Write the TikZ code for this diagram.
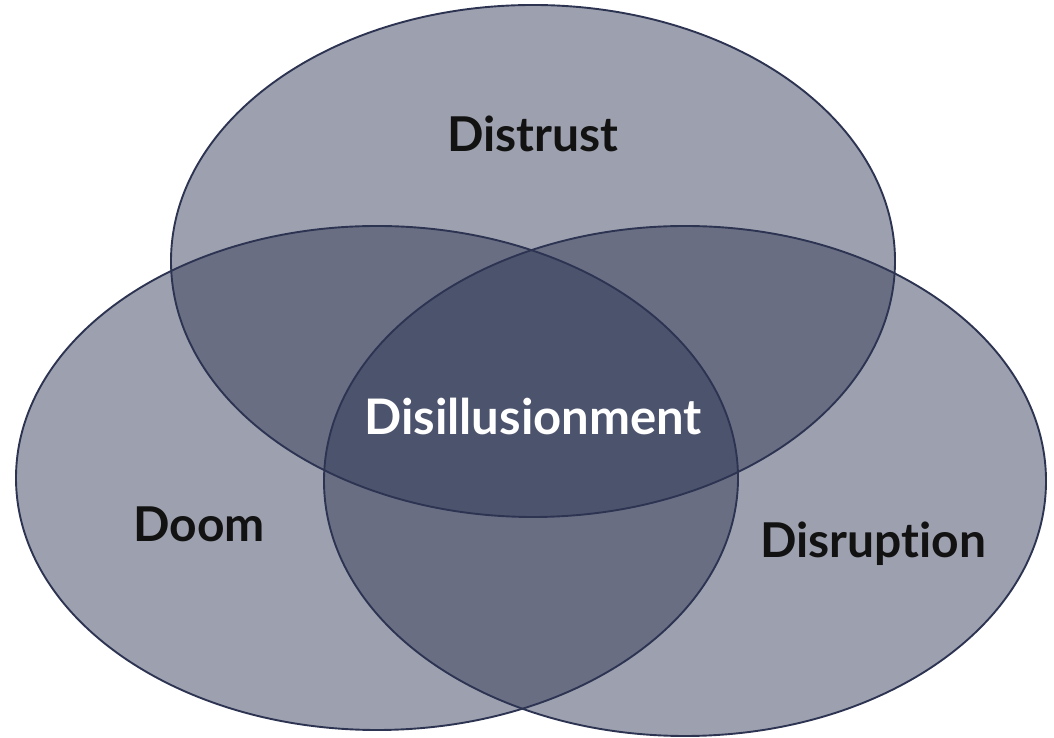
\documentclass[tikz,border=0pt]{standalone}
\usepackage{fontspec}
\newfontfamily\latofont{Lato}[Ligatures={NoCommon}]
\definecolor{vennfill}{RGB}{42,50,80}
\definecolor{vennline}{RGB}{45,52,82}
\begin{document}
\begin{tikzpicture}[x=1pt,y=1pt,
  setfill/.style={fill=vennfill,fill opacity=0.46,draw=none},
  setline/.style={draw=vennline,line width=1.9pt},
  setlabel/.style={font=\latofont\bfseries\fontsize{48}{52}\selectfont,anchor=base,inner sep=0pt}]
\useasboundingbox (0,0) rectangle (1054,738);
% centres of the three sets
\coordinate (ctop) at (533,477);
\coordinate (cleft) at (377,260);
\coordinate (cright) at (685,257);
% translucent fills
\fill[setfill] (ctop) ellipse [x radius=362, y radius=256];
\fill[setfill] (cleft) ellipse [x radius=361, y radius=252];
\fill[setfill] (cright) ellipse [x radius=361, y radius=255];
% outlines on top
\draw[setline] (ctop) ellipse [x radius=362, y radius=256];
\draw[setline] (cleft) ellipse [x radius=361, y radius=252];
\draw[setline] (cright) ellipse [x radius=361, y radius=255];
% labels
\node[setlabel,text=black!93] (distrust) at (533,586) {Distrust};
\node[setlabel,text=black!93] (doom) at (199,196) {Doom};
\node[setlabel,text=black!93] (disruption) at (873,180) {Disruption};
\node[setlabel,text=white,font=\latofont\bfseries\fontsize{49}{53}\selectfont] (disill) at (533,303) {Disillusionment};
\end{tikzpicture}
\end{document}
